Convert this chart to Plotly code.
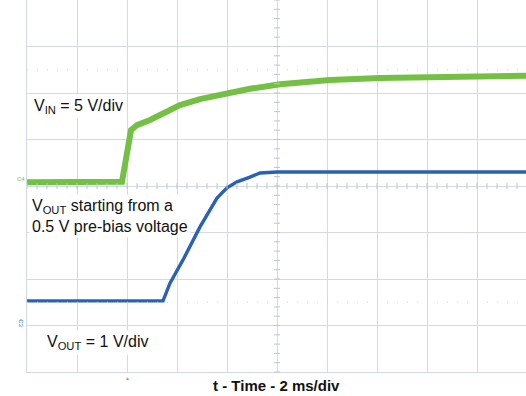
import plotly.graph_objects as go

# ---------------- data (read from the scope capture) ----------------
# time in ms (2 ms/div), 10 divisions across the screen
vin_t_ms = [0.0, 3.8, 4.16, 4.4, 4.92, 5.32, 5.72, 6.12, 6.92, 8.04, 8.92, 10.12, 12.12, 14.12, 16.12, 18.12, 19.96]
vin_v    = [0.0, 0.05, 5.6, 6.15, 6.7, 7.25, 7.75, 8.3, 8.95, 9.6, 10.05, 10.55, 11.0, 11.2, 11.3, 11.45, 11.45]

vout_t_ms = [0.0, 5.44, 5.72, 6.24, 6.92, 7.6, 8.0, 8.4, 8.92, 9.32, 10.0, 19.96]
vout_v    = [0.48, 0.48, 0.86, 1.36, 2.07, 2.69, 2.91, 3.04, 3.14, 3.23, 3.25, 3.25]

trigger_ms = 4.0
x_title = "t - Time - 2 ms/div"

# ---------------- scope settings ----------------
ms_per_div = 2.0
vin_per_div = 5.0
vout_per_div = 1.0
n_xdiv = 10
n_ydiv = 8
vin_ground_div = 4.08
vout_ground_div = 1.05
x_span_ms = 19.96

green = "#74c044"
blue = "#2b61b5"
grid = "#d0dbe7"
font_fam = "Liberation Sans, Arial, sans-serif"

fig = go.Figure()
fig.add_trace(go.Scatter(x=vin_t_ms, y=vin_v, mode="lines", yaxis="y",
                         line=dict(color=green, width=6), showlegend=False, hoverinfo="skip"))
fig.add_trace(go.Scatter(x=vout_t_ms, y=vout_v, mode="lines", yaxis="y2",
                         line=dict(color=blue, width=3.4), showlegend=False, hoverinfo="skip"))

shapes = []
# centre-line tick marks
xc = n_xdiv / 2 * ms_per_div
for i in range(n_ydiv * 5 + 1):
    yv = i / 5
    shapes.append(dict(type="line", xref="x", yref="paper", x0=xc - 0.12, x1=xc + 0.12,
                       y0=yv / n_ydiv, y1=yv / n_ydiv, line=dict(color="#b9c6d3", width=1)))
for i in range(n_xdiv * 5 + 1):
    xv = i / 5 * ms_per_div
    shapes.append(dict(type="line", xref="x", yref="paper", x0=xv, x1=xv,
                       y0=0.5 - 0.008, y1=0.5 + 0.008, line=dict(color="#b9c6d3", width=1)))
# faint dotted cursor rows
for ydiv in (n_ydiv / 2 + 2.5, n_ydiv / 2 - 2.5):
    shapes.append(dict(type="line", xref="paper", yref="paper", x0=0, x1=1,
                       y0=ydiv / n_ydiv, y1=ydiv / n_ydiv,
                       line=dict(color="#c6d2de", width=1, dash="1px,9px")))

ann = []
txt = dict(family=font_fam, size=16, color="#111111")
ann.append(dict(x=0.16, y=0.713, xref="x", yref="paper", xanchor="left", yanchor="middle",
                text="V<sub>IN</sub> = 5 V/div", showarrow=False, align="left",
                bgcolor="white", borderpad=2, font=txt))
ann.append(dict(x=0.06, y=0.42, xref="x", yref="paper", xanchor="left", yanchor="middle",
                text="V<sub>OUT</sub> starting from a<br>0.5 V pre-bias voltage", showarrow=False,
                align="left", bgcolor="white", borderpad=2, font=txt))
ann.append(dict(x=0.66, y=0.078, xref="x", yref="paper", xanchor="left", yanchor="middle",
                text="V<sub>OUT</sub> = 1 V/div", showarrow=False, align="left",
                bgcolor="white", borderpad=2, font=txt))
ann.append(dict(x=0, y=0, xref="paper", yref="y", xanchor="right", yanchor="middle",
                text="C4", showarrow=False, xshift=0, yshift=3,
                font=dict(family=font_fam, size=6, color=green)))
ann.append(dict(x=0, y=0, xref="paper", yref="y2", xanchor="right", yanchor="middle",
                text="C3", showarrow=False, textangle=90, xshift=-1,
                font=dict(family=font_fam, size=6, color=blue)))
ann.append(dict(x=trigger_ms, y=0, xref="x", yref="paper", xanchor="center", yanchor="top",
                text="▲", showarrow=False, yshift=-1,
                font=dict(family=font_fam, size=5, color=green)))
ann.append(dict(x=0.5, y=0, xref="paper", yref="paper", xanchor="center", yanchor="middle",
                text="<b>" + x_title + "</b>", showarrow=False, yshift=-13,
                font=dict(family=font_fam, size=15, color="#111111")))

fig.update_layout(
    width=526, height=396,
    margin=dict(l=27, r=0, t=0, b=24, autoexpand=False),
    paper_bgcolor="white", plot_bgcolor="white",
    xaxis=dict(range=[0, x_span_ms], dtick=ms_per_div, tick0=0, showgrid=True, gridcolor=grid,
               gridwidth=1, zeroline=False, showticklabels=False, ticks="",
               showline=True, linecolor=grid, linewidth=1, mirror=False, automargin=False),
    yaxis=dict(range=[-vin_ground_div * vin_per_div, (n_ydiv - vin_ground_div) * vin_per_div],
               dtick=vin_per_div, tick0=(0 - vin_ground_div) * vin_per_div % vin_per_div - vin_per_div,
               showgrid=True, gridcolor=grid, zeroline=False, showticklabels=False, ticks="",
               showline=True, linecolor=grid, linewidth=1, automargin=False),
    yaxis2=dict(range=[-vout_ground_div * vout_per_div, (n_ydiv - vout_ground_div) * vout_per_div],
                overlaying="y", showgrid=False, zeroline=False, showticklabels=False, ticks="",
                showline=False),
    shapes=shapes, annotations=ann,
)

fig.write_html("out.html", config={"displayModeBar": False, "staticPlot": True},
               post_script="document.body.style.margin='0';document.body.style.overflow='hidden';")
